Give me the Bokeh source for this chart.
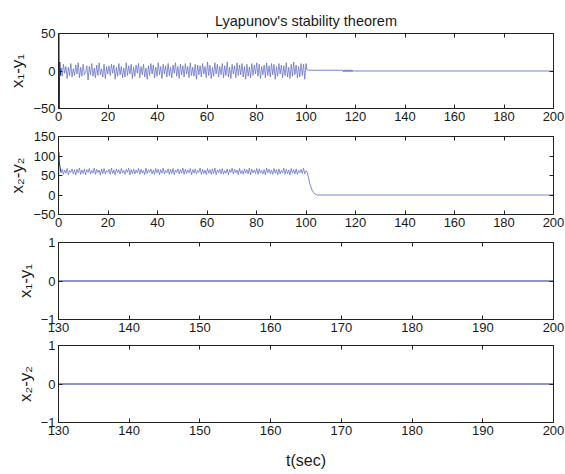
import numpy as np
from bokeh.plotting import figure
from bokeh.layouts import column
from bokeh.models import LinearAxis, FixedTicker, Range1d
from bokeh.embed import file_html
from bokeh.resources import INLINE

FONT = "Liberation Sans"

# ---------------- data ----------------
title_text = "Lyapunov's stability theorem"
ylabels = ["x\u2081-y\u2081", "x\u2082-y\u2082", "x\u2081-y\u2081", "x\u2082-y\u2082"]
xlabel_text = "t(sec)"

xticks_full = [0, 20, 40, 60, 80, 100, 120, 140, 160, 180, 200]
xticks_zoom = [130, 140, 150, 160, 170, 180, 190, 200]
yticks_1 = [-50, 0, 50]
yticks_2 = [-50, 0, 50, 100, 150]
yticks_z = [-1, 0, 1]

# x1-y1 : initial transient
t1_start = [0.0, 0.15, 0.3, 0.5, 0.75, 1.0]
e1_start = [0, 55, -55, 12, -6, 4]
# x1-y1 : oscillation between t=1 and t=100
e1_osc = [
    4, -7, 9, -3, 6, -10, 5, -6, 10, -8, 3, -6, 8, -4, 11, -9, 5, -7, 9, -5,
    -2, 7, -12, 6, -5, 10, -7, 4, -9, 8, -6, 11, -5, 3, -8, 9, -10, 6, -4, 7,
    -6, 9, -3, 8, -11, 5, -7, 10, -5, 6, -9, 4, -8, 11, -6, 7, -4, 9, -10, 5,
    -7, 8, -3, 10, -9, 6, -5, 9, -8, 4, -11, 7, -6, 10, -4, 8, -9, 5, -7, 11,
    -5, 6, -10, 9, -4, 7, -8, 10, -6, 5, -9, 8, -3, 11, -7, 6, -10, 9, -5, 7,
    -8, 10, -4, 6, -9, 11, -6, 5, -7, 9, -11, 8, -5, 7, -8, 10, -4, 6, -9, 12,
    -6, 8, -10, 5, -7, 11, -4, 9, -8, 6, -5, 10, -9, 7, -6, 12, -8, 5, -10, 9,
    -4, 7, -9, 11, -6, 8, -5, 10, -8, 6, -11, 9, -7, 5, -9, 10, -6, 8, -4, 11,
    -7, 9, -10, 6, -5, 8, -9, 11, -6, 7, -8, 10, -5, 9, -11, 6, -7, 10, -4, 8,
    -9, 7, -6, 11, -8, 5, -10, 9, -7, 12, -5, 8, -9, 6, -8, 10, -6, 9, -11, 10,
]
# x1-y1 : after t=100
t1_end = [100.0, 100.3, 101.0, 114.8, 115.1, 115.4, 115.7, 116.0, 116.3, 116.6,
          116.9, 117.2, 117.5, 117.8, 118.1, 118.4, 118.7, 119.0, 119.2, 200.0]
e1_end = [10, 2, 1, 1, -1, 1.5, -1, 1.5, -1, 1.5, -1, 1.5, -1, 1.5, -1, 1.5, -1, 1, 0, 0]

# x2-y2 : initial transient
t2_start = [0.0, 0.1, 0.3, 0.6, 1.0]
e2_start = [-42, 110, 85, 72, 58]
# x2-y2 : oscillation about 60 between t=1 and t=100
e2_osc = [
    57, 66, 53, 64, 56, 68, 52, 63, 58, 67, 54, 65, 51, 66, 57, 69, 53, 64, 55, 67,
    52, 65, 58, 68, 54, 63, 56, 69, 53, 66, 57, 64, 51, 67, 55, 68, 54, 63, 58, 66,
    53, 69, 55, 64, 52, 67, 57, 65, 54, 68, 56, 63, 53, 66, 58, 69, 52, 65, 55, 67,
    54, 64, 57, 68, 53, 66, 56, 63, 52, 69, 55, 65, 58, 67, 54, 64, 53, 68, 57, 66,
    52, 65, 56, 69, 54, 63, 57, 67, 53, 66, 55, 68, 52, 64, 58, 67, 54, 65, 56, 69,
    53, 66, 55, 64, 57, 68, 52, 65, 56, 67, 54, 63, 58, 69, 53, 66, 55, 64, 52, 68,
    56, 65, 53, 67, 55, 69, 52, 64, 57, 66, 54, 68, 53, 63, 56, 67, 52, 65, 58, 69,
    54, 66, 57, 64, 52, 68, 55, 63, 53, 67, 56, 65, 54, 69, 52, 66, 57, 64, 55, 68,
    53, 67, 56, 63, 54, 65, 52, 69, 57, 66, 55, 64, 53, 68, 56, 65, 52, 67, 54, 63,
    57, 69, 53, 66, 55, 64, 52, 68, 56, 65, 54, 67, 53, 63, 57, 66, 55, 69, 54, 62,
]
# x2-y2 : decay after t=100
t2_end = [100.0, 100.5, 101.0, 101.5, 102.0, 102.5, 103.0, 103.5, 104.5, 200.0]
e2_end = [62, 58, 45, 30, 20, 12, 7, 3, 0, 0]

# zoomed views (t = 130..200)
t3 = [130, 200]
e3 = [0, 0]
t4 = [130, 200]
e4 = [0, 0]

t1_osc = np.linspace(1.0, 100.0, len(e1_osc))
t2_osc = np.linspace(1.0, 100.0, len(e2_osc))

LINE_LIGHT = "#5a66c2"
LINE_DARK = "#1c2c96"


def style_axis(ax, ticks, show_labels=True):
    ax.ticker = FixedTicker(ticks=ticks)
    ax.major_tick_in = 4
    ax.major_tick_out = 0
    ax.minor_tick_line_color = None
    ax.axis_line_color = "#222222"
    ax.major_tick_line_color = "#222222"
    ax.major_label_text_font = FONT
    ax.major_label_standoff = 3
    if show_labels:
        ax.major_label_text_font_size = "13px"
        ax.major_label_text_color = "#1a1a1a"
    else:
        ax.major_label_text_font_size = "1px"
        ax.major_label_text_color = None
        ax.major_label_standoff = 0


def make_fig(height, top, bottom, xr, yr, xticks, yticks, ylabel):
    p = figure(width=565, height=height, x_range=Range1d(*xr), y_range=Range1d(*yr),
               output_backend="svg", toolbar_location=None,
               min_border_left=58, min_border_right=12,
               min_border_top=top, min_border_bottom=bottom)
    p.background_fill_color = "white"
    p.border_fill_color = "white"
    p.grid.visible = False
    p.outline_line_color = "#222222"
    p.outline_line_width = 1
    bottom_ax = p.below[0]
    left_ax = p.left[0]
    style_axis(bottom_ax, xticks)
    style_axis(left_ax, yticks)
    left_ax.axis_label = ylabel
    left_ax.axis_label_text_font = FONT
    left_ax.axis_label_text_font_size = "17px"
    left_ax.axis_label_text_font_style = "normal"
    left_ax.axis_label_text_color = "#1a1a1a"
    left_ax.axis_label_standoff = 3
    top_ax = LinearAxis()
    style_axis(top_ax, xticks, show_labels=False)
    p.add_layout(top_ax, "above")
    right_ax = LinearAxis()
    style_axis(right_ax, yticks, show_labels=False)
    p.add_layout(right_ax, "right")
    return p, bottom_ax


p1, b1 = make_fig(126, 33, 18, (0, 200), (-50, 50), xticks_full, yticks_1, ylabels[0])
p1.title.text = title_text
p1.title.align = "center"
p1.title.text_font = FONT
p1.title.text_font_size = "14.5px"
p1.title.text_font_style = "normal"
p1.title.text_color = "#1a1a1a"
p1.line(t1_start, e1_start, line_color=LINE_DARK, line_width=1)
p1.line(t1_osc, e1_osc, line_color=LINE_LIGHT, line_width=0.7)
p1.line(t1_end, e1_end, line_color=LINE_LIGHT, line_width=0.8)

p2, b2 = make_fig(108, 10, 20, (0, 200), (-50, 150), xticks_full, yticks_2, ylabels[1])
p2.line(t2_start, e2_start, line_color=LINE_DARK, line_width=1)
p2.line(t2_osc, e2_osc, line_color=LINE_LIGHT, line_width=0.7)
p2.line(t2_end, e2_end, line_color=LINE_LIGHT, line_width=0.8)

p3, b3 = make_fig(104, 8, 19, (130, 200), (-1, 1), xticks_zoom, yticks_z, ylabels[2])
p3.line(t3, e3, line_color=LINE_DARK, line_width=1.2)

p4, b4 = make_fig(136, 7, 52, (130, 200), (-1, 1), xticks_zoom, yticks_z, ylabels[3])
p4.line(t4, e4, line_color=LINE_DARK, line_width=1.2)
b4.axis_label = xlabel_text
b4.axis_label_text_font = FONT
b4.axis_label_text_font_size = "16px"
b4.axis_label_text_font_style = "normal"
b4.axis_label_text_color = "#1a1a1a"
b4.axis_label_standoff = 14

layout = column(p1, p2, p3, p4, spacing=0)
open("out.html", "w").write(file_html(layout, INLINE))
